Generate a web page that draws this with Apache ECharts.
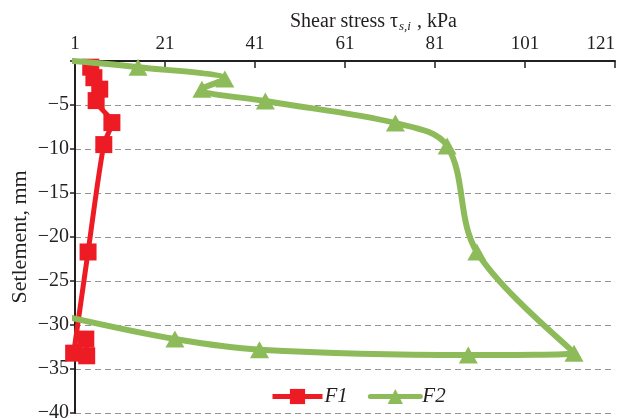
<!DOCTYPE html>
<html>
<head>
<meta charset="utf-8">
<script src="https://cdn.jsdelivr.net/npm/echarts@6/dist/echarts.min.js"></script>
<style>
  html, body { margin: 0; padding: 0; background: #fff; }
  #chart { width: 637px; height: 418px; }
</style>
</head>
<body>
<div id="chart"></div>
<script>
// Shear stress (kPa) and settlement (mm) for the two piles
const f1Stress     = [4.5, 5.2, 6.5, 5.7, 9.2, 7.4, 3.9, 0.7, 3.4, 3.6];
const f1Settlement = [-0.7, -1.9, -3.2, -4.5, -7.0, -9.5, -21.7, -33.2, -31.6, -33.5];

const f2Stress     = [0.5, 15.0, 34.3, 29.2, 43.3, 72.2, 83.7, 90.3, 111.9, 88.4, 42.0, 23.2, 0.3];
const f2Settlement = [0, -0.7, -2.05, -3.2, -4.55, -7.05, -9.66, -21.7, -33.2, -33.4, -32.8, -31.6, -29.2];

const stressTicks = [1, 21, 41, 61, 81, 101, 121];
const seriesNames = ['F1', 'F2'];

const FONT = '"Liberation Serif", "DejaVu Serif", serif';
const INK = '#231f20';
const RED = '#ED1C24';
const GREEN = '#8DBB5A';

const pairs = (xs, ys) => xs.map((x, i) => [x, ys[i]]);

// F2 curve starts and ends on the axis without a marker
const f2Data = pairs(f2Stress, f2Settlement).map((p, i, arr) =>
  (i === 0 || i === arr.length - 1) ? { value: p, symbol: 'none' } : p
);

const chart = echarts.init(document.getElementById('chart'), null, { renderer: 'canvas' });

chart.setOption({
  animation: false,
  backgroundColor: '#fff',
  title: {
    text: '{a|Shear stress τ}{s|s,i}{a| , kPa}',
    left: 285,
    top: 5,
    textStyle: {
      fontWeight: 'normal',
      rich: {
        a: { fontFamily: FONT, fontSize: 20, fontWeight: 'normal', color: INK },
        s: { fontFamily: FONT, fontSize: 13, fontStyle: 'italic', fontWeight: 'normal', color: INK, padding: [10, 1, 0, 1] }
      }
    }
  },
  grid: { left: 75, right: 22, top: 61, bottom: 5, outerBoundsMode: 'none' },
  legend: {
    data: seriesNames,
    left: 265,
    top: 381,
    itemWidth: 50,
    itemHeight: 19,
    itemGap: 20,
    lineStyle: { width: 5 },
    textStyle: { fontFamily: FONT, fontSize: 21, fontStyle: 'italic', color: INK, padding: [0, 0, 0, -3] }
  },
  xAxis: {
    type: 'value',
    position: 'top',
    min: stressTicks[0],
    max: stressTicks[stressTicks.length - 1],
    interval: stressTicks[1] - stressTicks[0],
    axisLine: { show: true, onZero: false, lineStyle: { color: INK, width: 2 } },
    axisTick: { show: true, inside: true, length: 7, lineStyle: { color: INK, width: 1.5 } },
    axisLabel: { fontFamily: FONT, fontSize: 19, color: INK, margin: 7, alignMaxLabel: 'right' },
    splitLine: { show: false }
  },
  yAxis: {
    type: 'value',
    min: -40,
    max: 0,
    interval: 5,
    name: 'Setlement, mm',
    nameLocation: 'middle',
    nameGap: 44,
    nameMoveOverlap: false,
    nameTextStyle: { fontFamily: FONT, fontSize: 22, color: INK },
    axisLine: { show: true, onZero: false, lineStyle: { color: INK, width: 2 } },
    axisTick: { show: true, inside: false, length: 5, lineStyle: { color: INK, width: 1.5 } },
    axisLabel: {
      fontFamily: FONT, fontSize: 20, color: INK, margin: 6,
      formatter: v => (v === 0 ? '' : '\u2212' + Math.abs(v))
    },
    splitLine: { show: true, lineStyle: { color: '#939393', width: 1.2, type: [6, 4] } }
  },
  series: [
    {
      name: seriesNames[0],
      type: 'line',
      data: pairs(f1Stress, f1Settlement),
      smooth: 0.3,
      clip: false,
      symbol: 'rect',
      symbolSize: 17,
      color: RED,
      lineStyle: { color: RED, width: 5 },
      itemStyle: { color: RED },
      z: 2
    },
    {
      name: seriesNames[1],
      type: 'line',
      data: f2Data,
      smooth: 0.35,
      clip: false,
      symbol: 'triangle',
      symbolSize: [19, 17],
      color: GREEN,
      lineStyle: { color: GREEN, width: 6, cap: 'round' },
      itemStyle: { color: GREEN },
      z: 3
    }
  ]
});
</script>
</body>
</html>
